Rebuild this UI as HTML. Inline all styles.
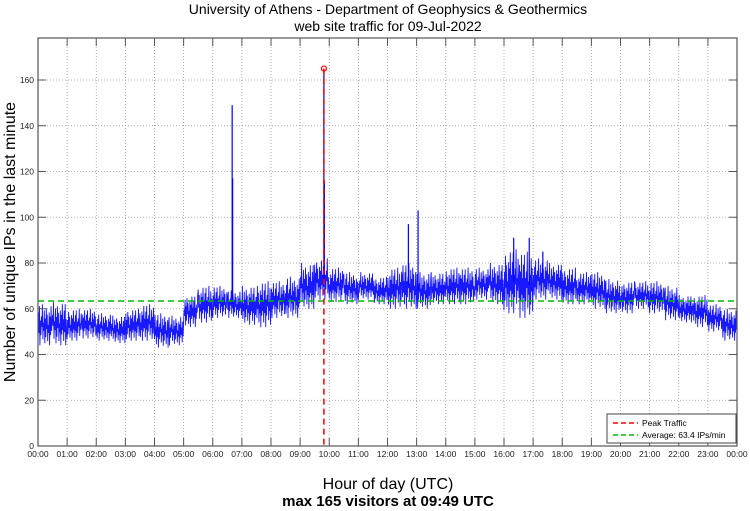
<!DOCTYPE html>
<html><head><meta charset="utf-8"><style>
body{margin:0;background:#fff;}
svg{display:block;font-family:"Liberation Sans",sans-serif;}
</style></head><body>
<svg id="chart" width="750" height="511" viewBox="0 0 750 511" xmlns="http://www.w3.org/2000/svg">
<text x="388" y="14" font-size="14" text-anchor="middle">University of Athens - Department of Geophysics &amp; Geothermics</text>
<text x="388" y="31" font-size="14" text-anchor="middle">web site traffic for 09-Jul-2022</text>
<text transform="translate(15,242) rotate(-90)" font-size="16" text-anchor="middle">Number of unique IPs in the last minute</text>
<text x="388" y="489" font-size="16" text-anchor="middle">Hour of day (UTC)</text>
<text x="388" y="506" font-size="15" font-weight="bold" text-anchor="middle">max 165 visitors at 09:49 UTC</text>
<g id="grid"></g>
<g id="series"></g>
<g id="axes"></g>
<g>
<rect x="607" y="414" width="129" height="29" fill="#fff" stroke="#444" stroke-width="1"/>
<line x1="613" y1="423" x2="638" y2="423" stroke="#f00" stroke-width="1.5" stroke-dasharray="5,3"/>
<text x="642" y="426" font-size="8.5">Peak Traffic</text>
<line x1="613" y1="435" x2="638" y2="435" stroke="#0b0" stroke-width="1.5" stroke-dasharray="5,3"/>
<text x="642" y="438" font-size="8.5">Average: 63.4 IPs/min</text>
</g>
</svg>
<script>
// half-hour bins (start minute), low/high range of per-minute unique IPs
const binStarts = [0,30,60,90,120,150,180,210,240,270,300,330,360,390,420,450,480,510,540,570,600,630,660,690,720,750,780,810,840,870,900,930,960,990,1020,1050,1080,1110,1140,1170,1200,1230,1260,1290,1320,1350,1380,1410];
const lowVals = [44,44,46,47,46,45,46,46,43,44,52,54,56,56,53,52,56,56,60,64,63,62,64,62,60,60,60,62,62,62,64,62,58,56,64,64,62,62,60,58,58,60,58,55,54,52,50,46];
const highVals = [62,63,60,60,58,57,60,62,58,57,66,70,70,68,70,72,72,74,80,82,78,76,76,74,78,80,76,76,78,78,78,80,86,85,82,80,78,76,76,73,72,72,72,70,66,66,62,60];
const spikeMinutes = [400,401,589,590,763,783,980,1012,1040];
const spikeValues = [149,117,165,116,97,103,91,91,85];
const peakMinute = 589, peakValue = 165, avgValue = 63.4;
const xTicks = ["00:00","01:00","02:00","03:00","04:00","05:00","06:00","07:00","08:00","09:00","10:00","11:00","12:00","13:00","14:00","15:00","16:00","17:00","18:00","19:00","20:00","21:00","22:00","23:00","00:00"];
const yTicks = [0,20,40,60,80,100,120,140,160];

const X0=38,X1=737,Y0=446,Y1=38;
const x = m => X0 + (X1-X0)*m/1440;
const y = v => Y0 - (v/160)*(Y0-80);
const NS="http://www.w3.org/2000/svg";
function mk(tag, attrs, parent){const e=document.createElementNS(NS,tag);for(const k in attrs)e.setAttribute(k,attrs[k]);parent.appendChild(e);return e;}
const grid=document.getElementById('grid'), series=document.getElementById('series'), axes=document.getElementById('axes');

xTicks.forEach((t,i)=>{
  const px=x(i*60);
  if(i>0&&i<24){const g=mk('line',{x1:px,y1:Y1,x2:px,y2:Y0,stroke:'#999','stroke-width':0.8,'stroke-dasharray':'1,2'},grid);
  
  }
  mk('line',{x1:px,y1:Y0,x2:px,y2:Y0-8,stroke:'#555','stroke-width':1},axes);
  mk('line',{x1:px,y1:Y1,x2:px,y2:Y1+8,stroke:'#555','stroke-width':1},axes);
  const tx=mk('text',{x:px,y:Y0+11,'font-size':8.5,'text-anchor':'middle',fill:'#222'},axes);
  tx.textContent=t;
  
  
});
yTicks.forEach(v=>{
  const py=y(v);
  if(v>0){const g=mk('line',{x1:X0,y1:py,x2:X1,y2:py,stroke:'#999','stroke-width':0.8,'stroke-dasharray':'1,2'},grid);
  
  }
  mk('line',{x1:X0,y1:py,x2:X0+8,y2:py,stroke:'#555','stroke-width':1},axes);
  mk('line',{x1:X1,y1:py,x2:X1-8,y2:py,stroke:'#555','stroke-width':1},axes);
  const tx=mk('text',{x:X0-4,y:py+3,'font-size':8.5,'text-anchor':'end',fill:'#222'},axes);
  tx.textContent=v;
  
  
});
const frame=mk('rect',{x:X0,y:Y1,width:X1-X0,height:Y0-Y1,fill:'none',stroke:'#555','stroke-width':1.2},axes);



// traffic band: zigzag between low/high within each bin
const frac=[0.1,0.8,0.3,0.95,0.0,0.6,0.25,0.7,0.45,1.0,0.15,0.55,0.35,0.85,0.05,0.65,0.2,0.9,0.4,0.75,0.1,0.5,0.3,0.8,0.0,0.7,0.25,0.95,0.35,0.6];
let pts=[];
binStarts.forEach((s,i)=>{
  const lo=lowVals[i], hi=highVals[i];
  for(let k=0;k<30;k+=1){
    const f=frac[(k+i*7)%30];
    pts.push(x(s+k).toFixed(1)+','+y(lo+(hi-lo)*f).toFixed(1));
  }
});
const line=mk('polyline',{points:pts.join(' '),fill:'none',stroke:'#0000ff','stroke-width':0.9,'stroke-opacity':0.9},series);


spikeMinutes.forEach((m,i)=>{
  const bi=Math.min(binStarts.length-1,Math.floor(m/30));
  const s=mk('line',{x1:x(m),y1:y((lowVals[bi]+highVals[bi])/2),x2:x(m),y2:y(spikeValues[i]),stroke:'#0000ff','stroke-width':1.2},series);
  
  
});
const avg=mk('line',{x1:X0,y1:y(avgValue),x2:X1,y2:y(avgValue),stroke:'#0b0','stroke-width':1.5,'stroke-dasharray':'6,4'},series);


const pk=mk('line',{x1:x(peakMinute),y1:y(peakValue),x2:x(peakMinute),y2:Y0,stroke:'#f00','stroke-width':1.5,'stroke-dasharray':'6,4'},series);


const pc=mk('circle',{cx:x(peakMinute),cy:y(peakValue),r:2.5,fill:'none',stroke:'#f00','stroke-width':1.2},series);


</script>
</body></html>
